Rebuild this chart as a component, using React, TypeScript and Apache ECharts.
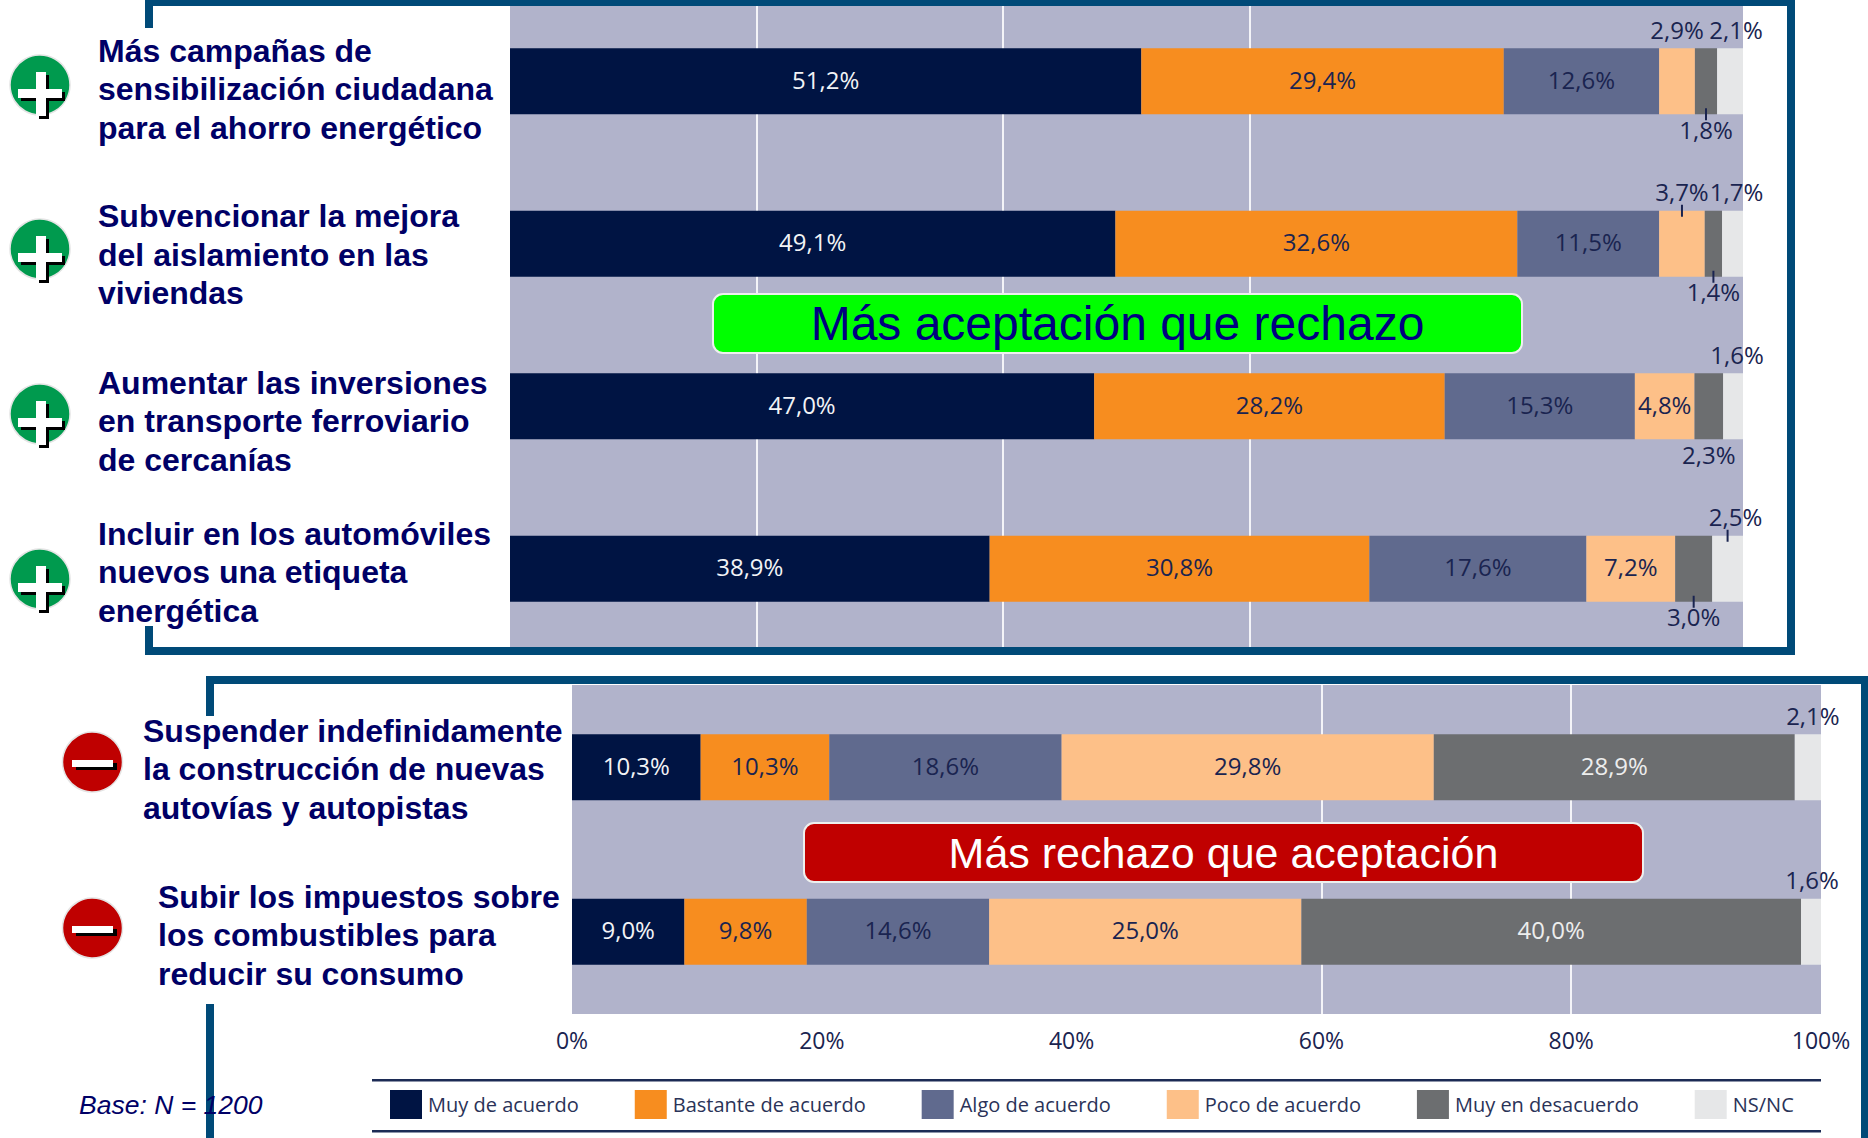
import React, { useEffect, useRef } from "react";
import * as echarts from "echarts";

const topCategories = [
  "Más campañas de\nsensibilización ciudadana\npara el ahorro energético",
  "Subvencionar la mejora\ndel aislamiento en las\nviviendas",
  "Aumentar las inversiones\nen transporte ferroviario\nde cercanías",
  "Incluir en los automóviles\nnuevos una etiqueta\nenergética",
];
const bottomCategories = [
  "Suspender indefinidamente\nla construcción de nuevas\nautovías y autopistas",
  "Subir los impuestos sobre\nlos combustibles para\nreducir su consumo",
];
const seriesNames = ["Muy de acuerdo", "Bastante de acuerdo", "Algo de acuerdo", "Poco de acuerdo", "Muy en desacuerdo", "NS/NC"];
const seriesColors = ["#001443", "#f78d1f", "#606a8e", "#fdc088", "#6c6e70", "#e6e7e8"];
const labelColors = ["#f2f3f6", "#1a2450", "#1a2450", "#1a2450", "#eceded", "#1a2450"];

const muyAcuerdoTop = [51.2, 49.1, 47.0, 38.9];
const bastanteTop = [29.4, 32.6, 28.2, 30.8];
const algoTop = [12.6, 11.5, 15.3, 17.6];
const pocoTop = [2.9, 3.7, 4.8, 7.2];
const desacuerdoTop = [1.8, 1.4, 2.3, 3.0];
const nsncTop = [2.1, 1.7, 1.6, 2.5];

const muyAcuerdoBottom = [10.3, 9.0];
const bastanteBottom = [10.3, 9.8];
const algoBottom = [18.6, 14.6];
const pocoBottom = [29.8, 25.0];
const desacuerdoBottom = [28.9, 40.0];
const nsncBottom = [2.1, 1.6];

const topValues = [muyAcuerdoTop, bastanteTop, algoTop, pocoTop, desacuerdoTop, nsncTop];
const bottomValues = [muyAcuerdoBottom, bastanteBottom, algoBottom, pocoBottom, desacuerdoBottom, nsncBottom];

// layout tables: "row-series" -> placement of the labels that sit outside the bar
type Out = { pos: "top" | "bottom"; dx: number; tick?: boolean };
const topOutside: Record<string, Out> = {
  "0-3": { pos: "top", dx: 0 },
  "0-4": { pos: "bottom", dx: 0, tick: true },
  "0-5": { pos: "top", dx: 6 },
  "1-3": { pos: "top", dx: 0, tick: true },
  "1-4": { pos: "bottom", dx: 0, tick: true },
  "1-5": { pos: "top", dx: 4 },
  "2-4": { pos: "bottom", dx: 0 },
  "2-5": { pos: "top", dx: 4 },
  "3-4": { pos: "bottom", dx: 0, tick: true },
  "3-5": { pos: "top", dx: 8, tick: true },
};
const bottomOutside: Record<string, Out> = {
  "0-5": { pos: "top", dx: 5 },
  "1-5": { pos: "top", dx: 1 },
};
const topLabelShift = [
  { dy: 8, left: 0 },
  { dy: 11, left: 0 },
  { dy: 15, left: 0 },
  { dy: 3.5, left: 0 },
];
const bottomLabelShift = [
  { dy: 2, left: 0 },
  { dy: 3.5, left: 15 },
];

const topIcons = [85, 249, 414, 579];
const bottomIcons = [762, 928];

const fmt = (v: number) => v.toFixed(1).replace(".", ",") + "%";
const FRAME = "#004a78";
const TEXT = "#000066";
const SANS = "'Liberation Sans', Arial, sans-serif";
const LINE_HEIGHT = 38.5;

function normalise(vals: number[][], row: number) {
  const total = vals.reduce((s, a) => s + a[row], 0);
  return vals.map((a) => (a[row] / total) * 100);
}

function buildGroup(vals: number[][], outside: Record<string, Out>, gridIndex: number, rows: number) {
  const series: any[] = vals.map((_, si) => ({
    type: "bar",
    name: seriesNames[si],
    stack: "g" + gridIndex,
    xAxisIndex: gridIndex,
    yAxisIndex: gridIndex,
    barWidth: 66,
    z: 3,
    itemStyle: { color: seriesColors[si] },
    label: {
      show: true,
      position: "inside",
      offset: [0, -2],
      fontFamily: "'Open Sans', sans-serif",
      fontSize: 24,
      color: labelColors[si],
    },
    data: Array.from({ length: rows }, (_, r) => {
      const o = outside[r + "-" + si];
      return {
        value: normalise(vals, r)[si],
        label: {
          formatter: fmt(vals[si][r]),
          ...(o
            ? { position: o.pos, distance: 0, offset: [o.dx, o.pos === "top" ? -7 : 3], color: "#1a2450" }
            : {}),
        },
      };
    }),
    ...(si === 0
      ? {
          markLine: {
            silent: true,
            symbol: "none",
            z: 1,
            label: { show: false },
            lineStyle: { color: "#f4f4f8", width: 2, type: "solid" },
            data: (gridIndex === 0 ? [20, 40, 60] : [60, 80]).map((v) => ({ xAxis: v })),
          },
        }
      : {}),
  }));
  const ticks: number[][] = [];
  Object.keys(outside).forEach((k) => {
    if (!outside[k].tick) return;
    const [r, si] = k.split("-").map(Number);
    const shares = normalise(vals, r);
    const start = shares.slice(0, si).reduce((a, b) => a + b, 0);
    ticks.push([start + shares[si] / 2, r, outside[k].pos === "top" ? -1 : 1]);
  });
  if (ticks.length) {
    series.push({
      type: "custom",
      xAxisIndex: gridIndex,
      yAxisIndex: gridIndex,
      z: 4,
      silent: true,
      encode: { x: 0, y: 1 },
      data: ticks,
      renderItem: (_: any, api: any) => {
        const p = api.coord([api.value(0), api.value(1)]);
        const d = api.value(2);
        return {
          type: "line",
          shape: { x1: p[0], y1: p[1] + d * 27, x2: p[0], y2: p[1] + d * 39 },
          style: { stroke: "#1a2450", lineWidth: 2 },
        };
      },
    });
  }
  return series;
}

function categoryData(cats: string[], shift: { dy: number; left: number }[]) {
  return cats.map((c, i) => ({
    value: c,
    textStyle: {
      align: "left",
      verticalAlign: "top",
      padding: [shift[i].dy - (LINE_HEIGHT * 3) / 2, 0, 0, shift[i].left],
    },
  }));
}

function rect(x: number, y: number, w: number, h: number, fill: string, z = 60) {
  return { type: "rect", z, shape: { x, y, width: w, height: h }, style: { fill } };
}

function plusIcon(cy: number) {
  return [
    { type: "circle", z: 60, shape: { cx: 40, cy, r: 30 }, style: { fill: "#009a4e", stroke: "#e4e4e4", lineWidth: 1.5 } },
    rect(21, cy + 7, 44, 9, "#000", 61),
    rect(39, cy - 10, 10, 44, "#000", 61),
    rect(18, cy + 4, 44, 9, "#fff", 62),
    rect(36, cy - 13, 10, 44, "#fff", 62),
  ];
}
function minusIcon(cy: number) {
  return [
    { type: "circle", z: 60, shape: { cx: 92.5, cy, r: 30 }, style: { fill: "#bf0000", stroke: "#e4e4e4", lineWidth: 1.5 } },
    rect(76, cy + 1, 41, 7, "#000", 61),
    rect(72, cy - 2, 41, 7, "#fff", 62),
  ];
}

function banner(x: number, y: number, w: number, h: number, fill: string, text: string, color: string, size: number, shadow: boolean) {
  return [
    { type: "rect", z: 70, shape: { x, y, width: w, height: h, r: 10 }, style: { fill, stroke: "#eef0ee", lineWidth: 2 } },
    {
      type: "text",
      z: 71,
      x: x + w / 2,
      y: y + h / 2,
      style: {
        text,
        fill: color,
        font: `${size}px ${SANS}`,
        textAlign: "center",
        textVerticalAlign: "middle",
        ...(shadow ? { shadowColor: "#000", shadowOffsetX: 2, shadowOffsetY: 2, shadowBlur: 0 } : {}),
      },
    },
  ];
}

export default function App() {
  const ref = useRef<HTMLDivElement>(null);
  useEffect(() => {
    const chart = echarts.init(ref.current!, null, { renderer: "svg" });
    const catLabel = {
      interval: 0,
      align: "left",
      fontFamily: SANS,
      fontWeight: "bold",
      fontSize: 32,
      lineHeight: LINE_HEIGHT,
      color: TEXT,
    };
    const valueAxisBase = {
      type: "value",
      min: 0,
      max: 100,
      interval: 20,
      axisLine: { show: false },
      axisTick: { show: false },
      splitLine: { show: false },
    };
    chart.setOption({
      animation: false,
      backgroundColor: "#ffffff",
      grid: [
        { left: 510, top: 0, width: 1233, height: 650, show: true, backgroundColor: "#b1b3cb", borderWidth: 0, outerBoundsMode: "none" },
        { left: 572, top: 685, width: 1249, height: 329, show: true, backgroundColor: "#b1b3cb", borderWidth: 0, outerBoundsMode: "none" },
      ],
      xAxis: [
        { ...valueAxisBase, gridIndex: 0, axisLabel: { show: false } },
        {
          ...valueAxisBase,
          gridIndex: 1,
          axisLabel: {
            show: true,
            margin: 14,
            fontFamily: "'Open Sans', sans-serif",
            fontSize: 23,
            color: "#1a2450",
            formatter: (v: number) => v + "%",
          },
        },
      ],
      yAxis: [
        {
          type: "category",
          gridIndex: 0,
          inverse: true,
          data: categoryData(topCategories, topLabelShift),
          axisLine: { show: false },
          axisTick: { show: false },
          axisLabel: { ...catLabel, margin: 412 },
        },
        {
          type: "category",
          gridIndex: 1,
          inverse: true,
          data: categoryData(bottomCategories, bottomLabelShift),
          axisLine: { show: false },
          axisTick: { show: false },
          axisLabel: { ...catLabel, margin: 429 },
        },
      ],
      legend: {
        left: 390,
        top: 1090,
        padding: 0,
        itemWidth: 32,
        itemHeight: 29,
        itemGap: 56,
        icon: "rect",
        selectedMode: false,
        data: seriesNames,
        textStyle: { fontFamily: "'Open Sans', sans-serif", fontSize: 20, color: "#2a3358", padding: [0, 0, 0, 1] },
      },
      series: [...buildGroup(topValues, topOutside, 0, 4), ...buildGroup(bottomValues, bottomOutside, 1, 2)],
      graphic: {
        elements: [
          rect(145, 0, 1650, 6, FRAME),
          rect(145, 0, 8, 28, FRAME),
          rect(145, 626, 8, 29, FRAME),
          rect(145, 647, 1650, 8, FRAME),
          rect(1787, 0, 8, 655, FRAME),
          rect(206, 676, 1662, 8, FRAME),
          rect(206, 676, 8, 40, FRAME),
          rect(206, 1004, 8, 134, FRAME),
          rect(1861, 676, 7, 462, FRAME),
          rect(372, 1079, 1449, 2.5, "#1c2b55"),
          rect(372, 1130, 1449, 2.5, "#1c2b55"),
          ...topIcons.flatMap(plusIcon),
          ...bottomIcons.flatMap(minusIcon),
          ...banner(713, 294, 809, 59, "#00ff00", "Más aceptación que rechazo", "#000080", 48, false),
          ...banner(804, 823, 839, 59, "#c00000", "Más rechazo que aceptación", "#ffffff", 43, true),
          {
            type: "text",
            z: 80,
            x: 79,
            y: 1105,
            style: {
              text: "Base: N = 1200",
              fill: TEXT,
              font: `italic 26.5px ${SANS}`,
              textVerticalAlign: "middle",
            },
          },
        ],
      },
    });
    return () => chart.dispose();
  }, []);
  return <div ref={ref} style={{ position: "absolute", left: 0, top: 0, width: 1868, height: 1138 }} />;
}
